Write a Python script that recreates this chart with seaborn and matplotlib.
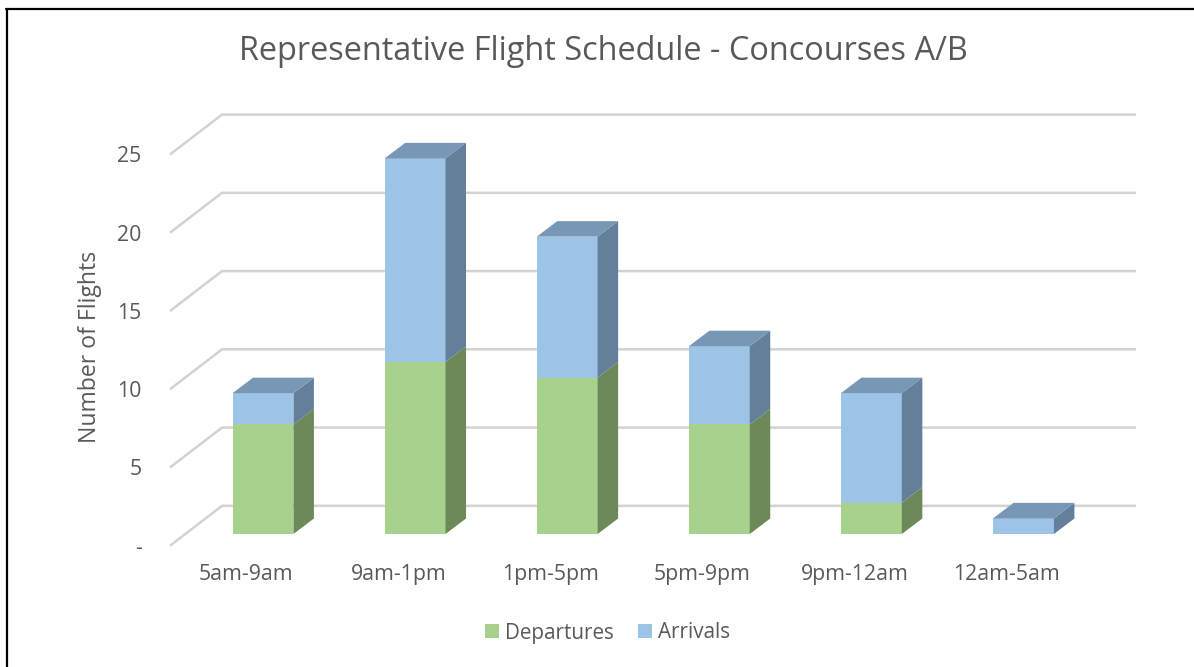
import matplotlib
matplotlib.use("Agg")
import matplotlib.pyplot as plt
from matplotlib.patches import Polygon, Patch
from matplotlib.lines import Line2D
import seaborn as sns
import pandas as pd

categories = ["5am-9am", "9am-1pm", "1pm-5pm", "5pm-9pm", "9pm-12am", "12am-5am"]
departures = [7, 11, 10, 7, 2, 0]
arrivals = [2, 13, 9, 5, 7, 1]
tick_values = [0, 5, 10, 15, 20, 25]
tick_labels = ["-", "5", "10", "15", "20", "25"]

title = "Representative Flight Schedule - Concourses A/B"
ylabel = "Number of Flights"

totals = [d + a for d, a in zip(departures, arrivals)]
df = pd.DataFrame({"slot": categories, "dep": departures, "tot": totals})

sns.set_style("white")
plt.rcParams["font.family"] = ["Open Sans", "DejaVu Sans"]
TXT = "#595959"

G_FRONT, G_SIDE, G_TOP = "#a9d18e", "#6c8a59", "#8aab73"
B_FRONT, B_SIDE, B_TOP = "#9dc3e6", "#647f9a", "#7896b5"
GRID = "#d3d3d3"

W, H = 1194, 667
fig = plt.figure(figsize=(W / 100, H / 100), dpi=100)
# axes placed in pixel terms
ax_l, ax_r, ax_t, ax_b = 150, 1160, 100, 560
ax = fig.add_axes([ax_l / W, 1 - ax_b / H, (ax_r - ax_l) / W, (ax_b - ax_t) / H])

PX_CAT, CAT0 = 152.1, 263.0
PX_VAL, VAL0 = 15.65, 534.0
def cx(px):
    return (px - CAT0) / PX_CAT
def vy(py):
    return (VAL0 - py) / PX_VAL

# bar depth offsets
BDX, BDY = 20.5 / PX_CAT, 15.5 / PX_VAL
# wall geometry
WALL_FRONT_X, WALL_BACK_X, WALL_RIGHT_X = cx(170), cx(222), cx(1136)
FRONT_SHIFT, BACK_SHIFT = -0.75, 1.8

# gridlines (left wall diagonal + back wall horizontal)
for v in tick_values:
    ax.plot([WALL_FRONT_X, WALL_BACK_X, WALL_RIGHT_X],
            [v + FRONT_SHIFT, v + BACK_SHIFT, v + BACK_SHIFT],
            color=GRID, lw=1.8, zorder=0.5, solid_capstyle="butt")

sns.barplot(data=df, x="slot", y="tot", color=B_FRONT, width=0.4, saturation=1,
            errorbar=None, ax=ax, zorder=2, linewidth=0)
sns.barplot(data=df, x="slot", y="dep", color=G_FRONT, width=0.4, saturation=1,
            errorbar=None, ax=ax, zorder=3, linewidth=0)

n = len(categories)
tot_patches = ax.patches[:n]
for p, dep, tot in zip(tot_patches, departures, totals):
    xl = p.get_x()
    xr = xl + p.get_width()
    if dep > 0:
        ax.add_patch(Polygon([(xr, 0), (xr + BDX, BDY), (xr + BDX, dep + BDY), (xr, dep)],
                             closed=True, facecolor=G_SIDE, edgecolor="none", zorder=3))
    ax.add_patch(Polygon([(xr, dep), (xr + BDX, dep + BDY), (xr + BDX, tot + BDY), (xr, tot)],
                         closed=True, facecolor=B_SIDE, edgecolor="none", zorder=3))
    ax.add_patch(Polygon([(xl, tot), (xr, tot), (xr + BDX, tot + BDY), (xl + BDX, tot + BDY)],
                         closed=True, facecolor=B_TOP, edgecolor="none", zorder=3))

ax.set_xlim(cx(ax_l), cx(ax_r))
ax.set_ylim(vy(ax_b), vy(ax_t))
ax.set_xticks([i - 0.11 for i in range(n)], categories)
ax.set_yticks([v + FRONT_SHIFT for v in tick_values], tick_labels)
ax.tick_params(axis="both", length=0, labelcolor=TXT, labelsize=15.3)
ax.tick_params(axis="y", pad=6)
ax.tick_params(axis="x", pad=3)
ax.set_xlabel("")
ax.set_ylabel("")
for s in ax.spines.values():
    s.set_visible(False)
ax.set_facecolor("none")

fig.text(603 / W, 1 - 52 / H, title, ha="center", va="center", fontsize=23.4, color=TXT)
fig.text(90 / W, 1 - 347 / H, ylabel, ha="center", va="center", rotation=90,
         fontsize=16.6, color=TXT)

handles = [Patch(facecolor=G_FRONT, edgecolor="none", label="Departures"),
           Patch(facecolor=B_FRONT, edgecolor="none", label="Arrivals")]
fig.legend(handles=handles, loc="center", bbox_to_anchor=(607.5 / W, 1 - 633 / H), ncol=2,
           frameon=False, fontsize=14.9, labelcolor=TXT, handlelength=0.68,
           handleheight=0.68, handletextpad=0.3, columnspacing=1.15)

# chart border: top and left edges
fig.add_artist(Line2D([7 / W, 7 / W], [0, 1 - 8.5 / H], transform=fig.transFigure,
                      color="black", lw=1.6))
fig.add_artist(Line2D([6 / W, 1], [1 - 8.8 / H, 1 - 8.8 / H], transform=fig.transFigure,
                      color="black", lw=1.6))

fig.savefig("out.png", dpi=100, facecolor="white")
